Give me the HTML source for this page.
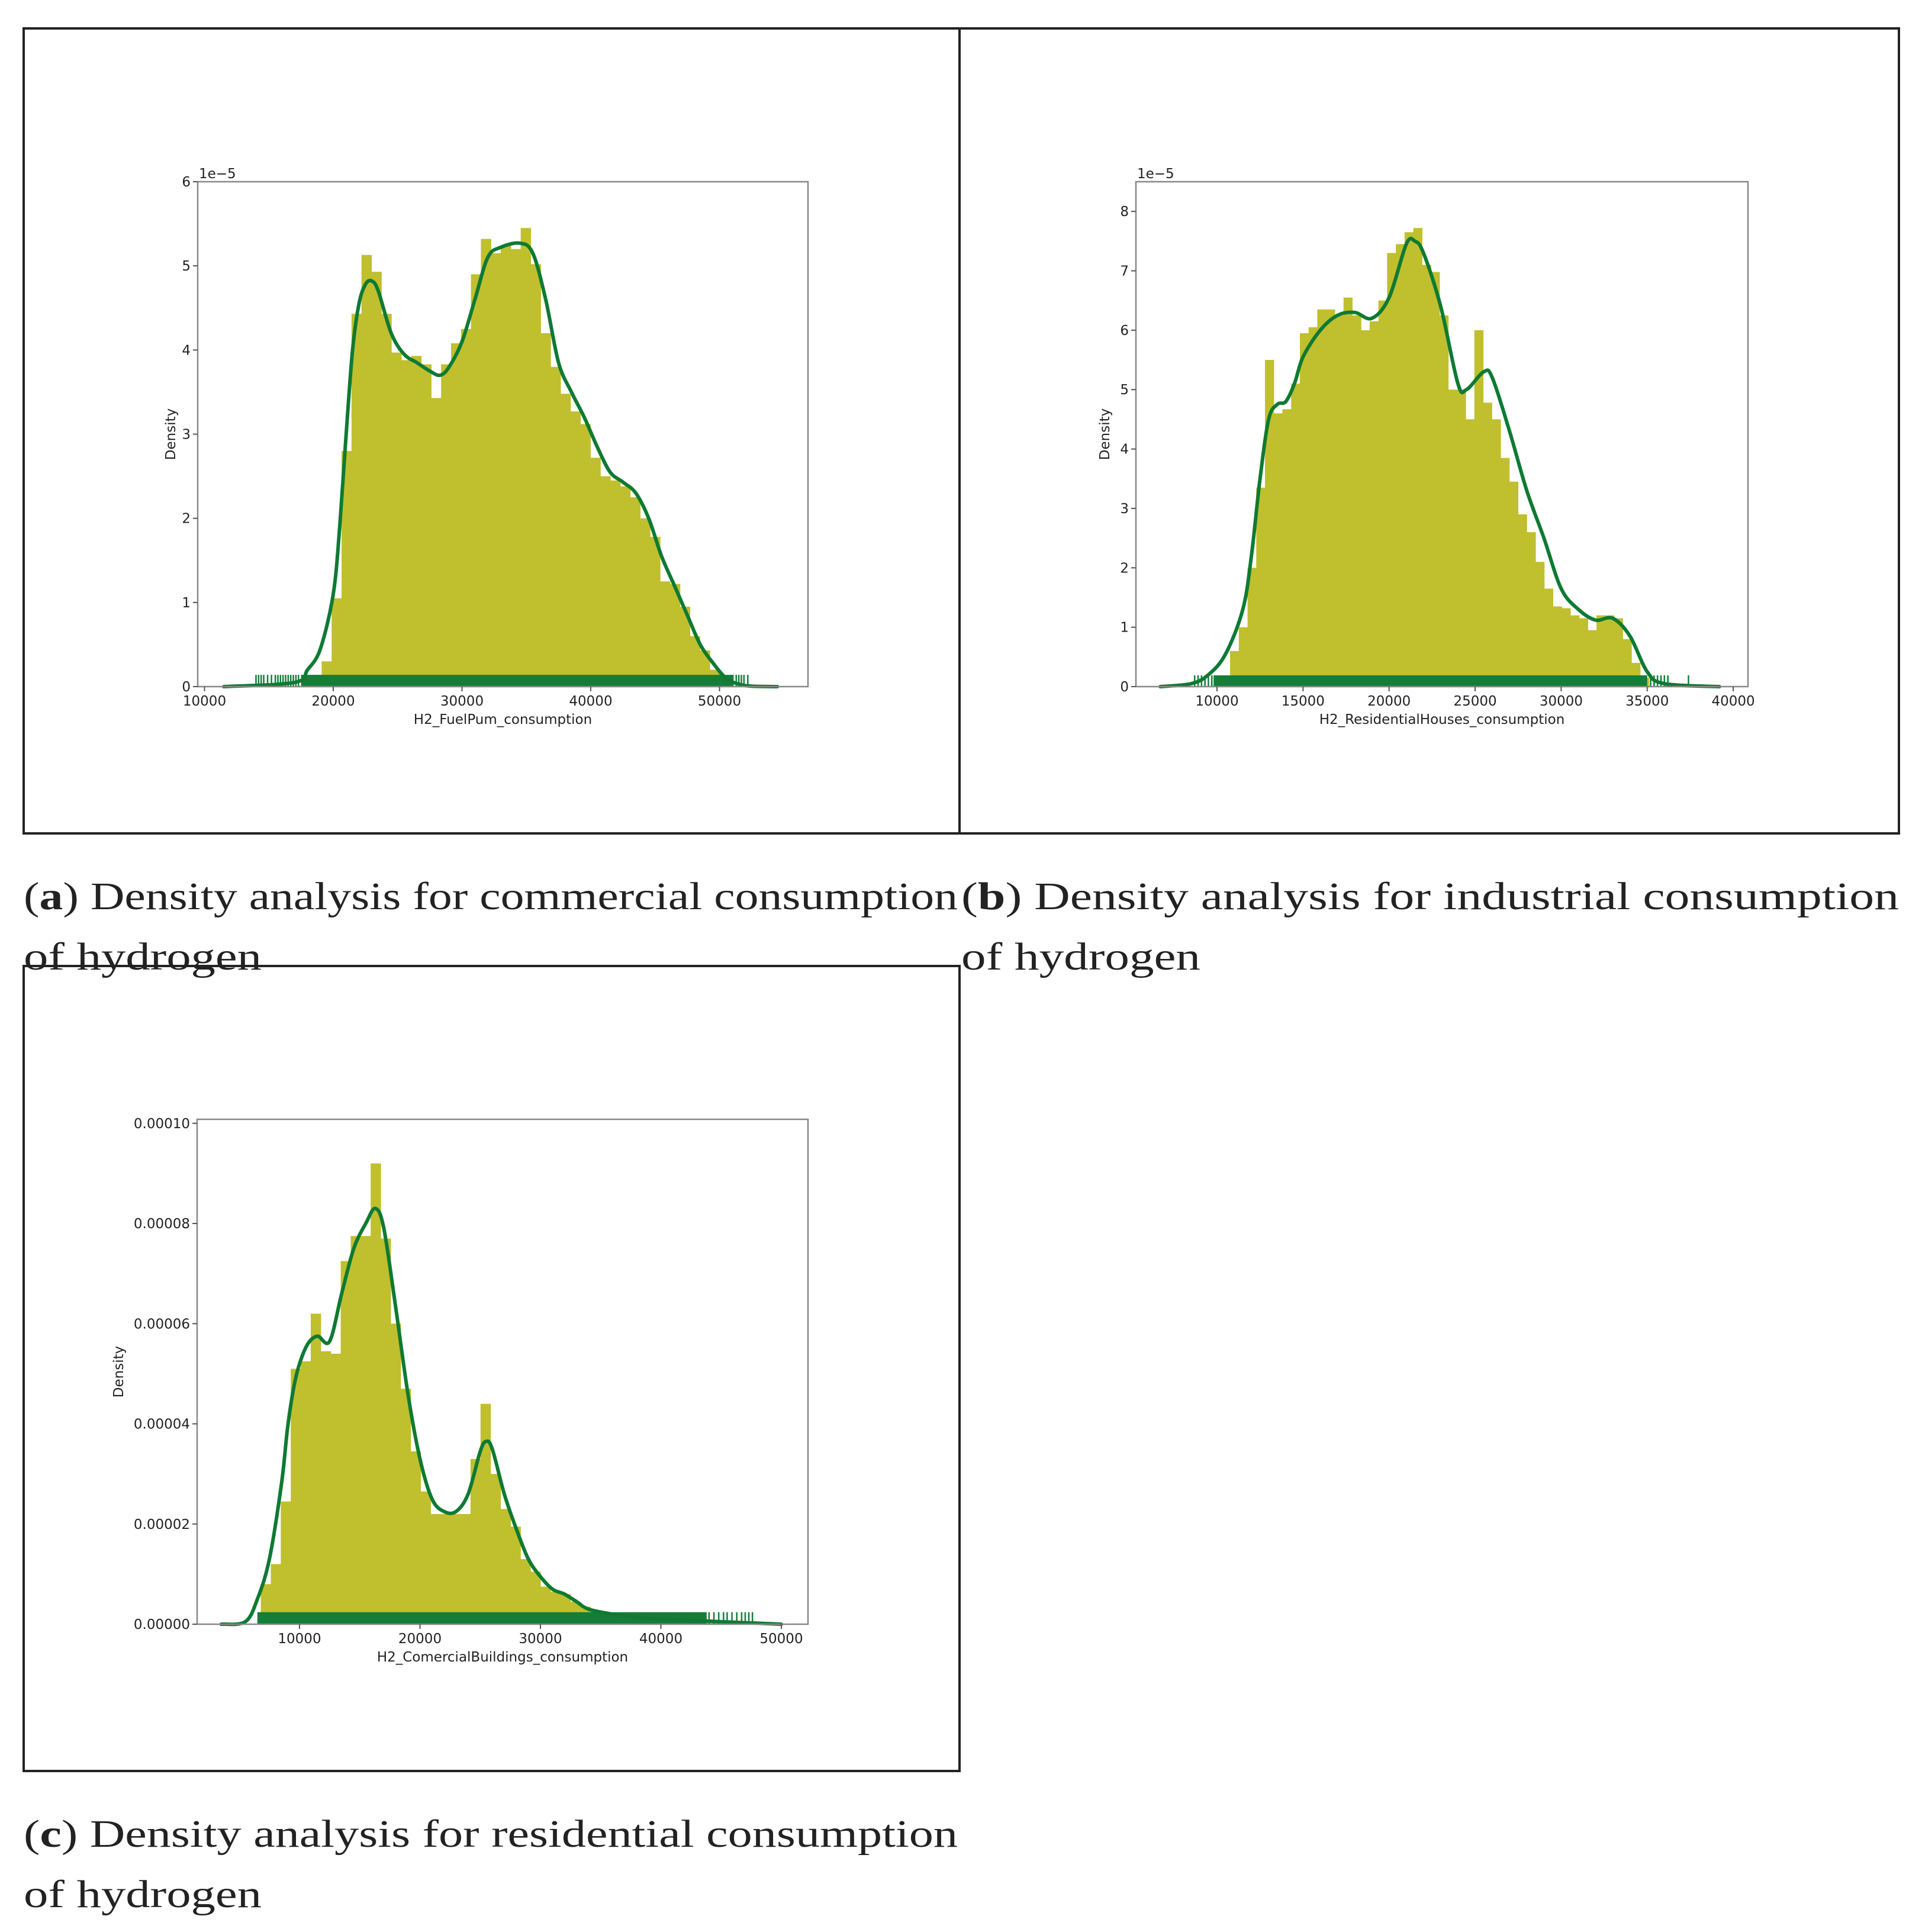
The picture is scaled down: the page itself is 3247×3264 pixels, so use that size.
<!DOCTYPE html>
<html><head><meta charset="utf-8"><style>
html,body{margin:0;padding:0;background:#fff;}
svg{display:block;}
.tick{font-family:"DejaVu Sans","Liberation Sans",sans-serif;font-size:23px;fill:#222;}
.cap{font-family:"Liberation Serif",serif;font-size:66px;fill:#222;}
</style></head><body>
<svg id="fig" width="3247" height="3264" viewBox="0 0 3247 3264" xmlns="http://www.w3.org/2000/svg">
<rect x="0" y="0" width="3247" height="3264" fill="#fff"/>
<rect x="40" y="48" width="1581" height="1360" fill="none" stroke="#222" stroke-width="4"/>
<rect x="1621" y="48" width="1587" height="1360" fill="none" stroke="#222" stroke-width="4"/>
<rect x="40" y="1632" width="1581" height="1360" fill="none" stroke="#222" stroke-width="4"/>
<text class="cap" x="40" y="1536" textLength="1578" lengthAdjust="spacingAndGlyphs">(<tspan font-weight="bold">a</tspan>) Density analysis for commercial consumption</text>
<text class="cap" x="40" y="1638" textLength="402" lengthAdjust="spacingAndGlyphs">of hydrogen</text>
<text class="cap" x="1624" y="1536" textLength="1584" lengthAdjust="spacingAndGlyphs">(<tspan font-weight="bold">b</tspan>) Density analysis for industrial consumption</text>
<text class="cap" x="1624" y="1638" textLength="404" lengthAdjust="spacingAndGlyphs">of hydrogen</text>
<text class="cap" x="40" y="3120" textLength="1578" lengthAdjust="spacingAndGlyphs">(<tspan font-weight="bold">c</tspan>) Density analysis for residential consumption</text>
<text class="cap" x="40" y="3222" textLength="402" lengthAdjust="spacingAndGlyphs">of hydrogen</text>
</svg>
<script>
// Panel a data (density in units of 1e-5)
const aBinStart = 19100;
const aBinWidth = 773;
const aBars = [0.3,1.05,2.8,4.43,5.13,4.93,4.43,3.97,3.88,3.93,3.83,3.43,3.83,4.08,4.25,4.9,5.32,5.15,5.25,5.2,5.45,5.02,4.2,3.8,3.48,3.27,3.12,2.72,2.5,2.45,2.38,2.25,2.0,1.78,1.25,1.22,0.95,0.6,0.43,0.2];
const aKdeX = [11500,17000,18000,19000,20000,20500,21000,21500,22000,22500,23000,23500,24500,25500,26500,27500,28300,29000,30000,31000,32000,33000,34500,35500,36500,37500,38500,39500,40500,41500,42500,43500,44500,45500,46500,47500,48500,49500,50500,51500,52500,54500];
const aKdeY = [0,0.05,0.2,0.45,1.1,1.9,3.0,4.0,4.55,4.78,4.82,4.7,4.2,3.95,3.85,3.75,3.7,3.8,4.1,4.6,5.1,5.22,5.27,5.15,4.6,3.85,3.5,3.2,2.85,2.55,2.43,2.3,2.0,1.55,1.2,0.85,0.5,0.28,0.1,0.03,0.005,0];
const aRug = [14000,14200,14400,14600,14900,15200,15500,15700,15900,16100,16300,16500,16700,16900,17100,17300,51300,51500,51700,51900,52200];
const aRugBand = [17500,51100];
const aXTicks = [10000,20000,30000,40000,50000];
const aYTicks = [0,1,2,3,4,5,6];

// Panel b data
const bBinStart = 10760;
const bBinWidth = 507;
const bBars = [0.6,1.0,2.0,3.35,5.5,4.6,4.67,5.1,5.95,6.05,6.35,6.35,6.25,6.55,6.25,6.0,6.15,6.5,7.3,7.45,7.65,7.72,7.1,6.98,6.25,5.0,5.0,4.5,6.0,4.78,4.5,3.85,3.45,2.9,2.6,2.1,1.65,1.35,1.32,1.2,1.15,0.95,1.2,1.2,1.15,0.8,0.4,0.15];
const bKdeX = [6700,8500,9500,10500,11500,12000,12500,13000,13500,14000,14500,15000,16000,17000,18000,19000,20000,21000,21500,22000,23000,24000,24500,25500,26000,27000,28000,29000,30000,31000,32000,33000,34000,35000,36000,39200];
const bKdeY = [0,0.05,0.2,0.55,1.3,2.2,3.5,4.5,4.75,4.8,5.1,5.55,6.0,6.25,6.3,6.2,6.55,7.45,7.5,7.3,6.4,5.1,5.0,5.3,5.2,4.3,3.3,2.5,1.65,1.3,1.12,1.15,0.85,0.25,0.05,0];
const bRug = [8700,8900,9100,9300,9500,9700,35200,35400,35600,35800,36000,36200,37400];
const bRugBand = [9800,35000];
const bXTicks = [10000,15000,20000,25000,30000,35000,40000];
const bYTicks = [0,1,2,3,4,5,6,7,8];

// Panel c data
const cBinStart = 6788;
const cBinWidth = 829;
const cBars = [0.8,1.2,2.45,5.1,5.25,6.2,5.45,5.4,7.25,7.75,7.75,9.2,7.7,6.0,4.7,3.45,2.65,2.2,2.2,2.2,2.2,3.3,4.4,3.0,2.3,1.95,1.3,1.05,0.75,0.65,0.6,0.45,0.35,0.25,0.2,0.15,0.12,0.1,0.08,0.07,0.06,0.05,0.05,0.04,0.04,0.03,0.03,0.03,0.02,0.02];
const cKdeX = [3500,5500,6500,7500,8500,9000,9500,10000,10700,11500,12500,13500,14500,15500,16300,17000,18000,19000,20000,21000,22000,23000,24000,25000,25500,26000,27000,28000,29000,30000,31000,32000,33000,34000,36000,38000,40000,44000,48000,50000];
const cKdeY = [0,0.05,0.5,1.3,2.8,3.9,4.7,5.2,5.6,5.75,5.65,6.6,7.5,8.0,8.3,7.9,6.3,4.6,3.3,2.5,2.25,2.25,2.6,3.45,3.65,3.5,2.6,1.9,1.3,0.95,0.7,0.6,0.45,0.3,0.2,0.14,0.1,0.06,0.02,0];
const cRug = [44000,44400,44800,45200,45500,45900,46300,46700,47000,47300,47600];
const cRugBand = [6500,43800];
const cXTicks = [10000,20000,30000,40000,50000];
const cYTicks = [0,2,4,6,8,10];
const cYLabels = ["0.00000","0.00002","0.00004","0.00006","0.00008","0.00010"];

const NS = "http://www.w3.org/2000/svg";
const fig = document.getElementById('fig');
function mk(tag, attrs, parent){
  const e = document.createElementNS(NS, tag);
  for (const k in attrs) e.setAttribute(k, attrs[k]);
  (parent||fig).appendChild(e);
  return e;
}
function smoothPath(pts){
  let d = 'M' + pts[0][0].toFixed(1) + ',' + pts[0][1].toFixed(1);
  for (let i = 0; i < pts.length - 1; i++){
    const p0 = pts[Math.max(0, i - 1)], p1 = pts[i], p2 = pts[i + 1], p3 = pts[Math.min(pts.length - 1, i + 2)];
    const c1x = p1[0] + (p2[0] - p0[0]) / 6, c1y = p1[1] + (p2[1] - p0[1]) / 6;
    const c2x = p2[0] - (p3[0] - p1[0]) / 6, c2y = p2[1] - (p3[1] - p1[1]) / 6;
    d += 'C' + c1x.toFixed(1) + ',' + c1y.toFixed(1) + ' ' + c2x.toFixed(1) + ',' + c2y.toFixed(1) + ' ' + p2[0].toFixed(1) + ',' + p2[1].toFixed(1);
  }
  return d;
}
function panel(p){
  const g = mk('g', {});
  
  
  const sx = v => p.L + (v - p.x0) / (p.x1 - p.x0) * (p.R - p.L);
  const sy = v => p.B - (v - p.y0) / (p.y1 - p.y0) * (p.B - p.T);
  p.bars.forEach((h, i) => {
    const xa = sx(p.binStart + i * p.binWidth), xb = sx(p.binStart + (i + 1) * p.binWidth);
    const r = mk('rect', {x: xa, y: sy(h), width: xb - xa + 0.6, height: sy(0) - sy(h), fill: '#c0bf2e'}, g);
    
    
  });
  const rb = mk('rect', {x: sx(p.rugBand[0]), y: sy(p.rugH), width: sx(p.rugBand[1]) - sx(p.rugBand[0]), height: sy(0) - sy(p.rugH), fill: '#137e38'}, g);
  
  
  p.rug.forEach(v => {
    const l = mk('line', {x1: sx(v), x2: sx(v), y1: sy(0), y2: sy(p.rugH), stroke: '#137e38', 'stroke-width': 2.5}, g);
    
    
  });
  const pts = p.kx.map((x, i) => [sx(x), sy(p.ky[i])]);
  const path = mk('path', {d: smoothPath(pts), fill: 'none', stroke: '#0e7a33', 'stroke-width': 6, 'stroke-linejoin': 'round', 'stroke-linecap': 'round'}, g);
  
  
  const fr = mk('rect', {x: p.L, y: p.T, width: p.R - p.L, height: p.B - p.T, fill: 'none', stroke: '#888', 'stroke-width': 2.5}, g);
  
  
  p.xt.forEach(v => {
    mk('line', {x1: sx(v), x2: sx(v), y1: p.B, y2: p.B + 8, stroke: '#555', 'stroke-width': 2}, g);
    const t = mk('text', {x: sx(v), y: p.B + 32, 'text-anchor': 'middle', class: 'tick'}, g);
    t.textContent = String(v);
    
    
  });
  p.yt.forEach((v, i) => {
    mk('line', {x1: p.L - 8, x2: p.L, y1: sy(v), y2: sy(v), stroke: '#555', 'stroke-width': 2}, g);
    const t = mk('text', {x: p.L - 12, y: sy(v) + 8, 'text-anchor': 'end', class: 'tick'}, g);
    t.textContent = p.yl ? p.yl[i] : String(v);
    
    
  });
  const xl = mk('text', {x: (p.L + p.R) / 2, y: p.B + 63, 'text-anchor': 'middle', class: 'tick'}, g);
  xl.textContent = p.xlabel;
  
  
  const yl = mk('text', {x: 0, y: 0, 'text-anchor': 'middle', class: 'tick', transform: 'translate(' + p.ylx + ',' + ((p.T + p.B) / 2) + ') rotate(-90)'}, g);
  yl.textContent = 'Density';
  
  
  if (p.offset) {
    const o = mk('text', {x: p.L + 2, y: p.T - 6, class: 'tick'}, g);
    o.textContent = '1e\u22125';
    
    
  }
}
panel({name: 'chart-a', L: 334, R: 1365, T: 307, B: 1160, x0: 10000 - (345.5 - 334) / 0.02175, x1: 10000 + (1365 - 345.5) / 0.02175, y0: 0, y1: 6,
  bars: aBars, binStart: aBinStart, binWidth: aBinWidth, kx: aKdeX, ky: aKdeY, rug: aRug, rugBand: aRugBand, rugH: 0.14,
  xt: aXTicks, yt: aYTicks, xlabel: 'H2_FuelPum_consumption', ylx: 296, offset: true});
panel({name: 'chart-b', L: 1919, R: 2953, T: 307, B: 1160, x0: 10000 - (2056 - 1919) / 0.02907, x1: 10000 + (2953 - 2056) / 0.02907, y0: 0, y1: 8.5,
  bars: bBars, binStart: bBinStart, binWidth: bBinWidth, kx: bKdeX, ky: bKdeY, rug: bRug, rugBand: bRugBand, rugH: 0.19,
  xt: bXTicks, yt: bYTicks, xlabel: 'H2_ResidentialHouses_consumption', ylx: 1874, offset: true});
panel({name: 'chart-c', L: 333, R: 1365, T: 1891, B: 2744, x0: 10000 - (506 - 333) / 0.02035, x1: 10000 + (1365 - 506) / 0.02035, y0: 0, y1: 10.08,
  bars: cBars, binStart: cBinStart, binWidth: cBinWidth, kx: cKdeX, ky: cKdeY, rug: cRug, rugBand: cRugBand, rugH: 0.24,
  xt: cXTicks, yt: cYTicks, yl: cYLabels, xlabel: 'H2_ComercialBuildings_consumption', ylx: 208, offset: false});
</script>
</body></html>
